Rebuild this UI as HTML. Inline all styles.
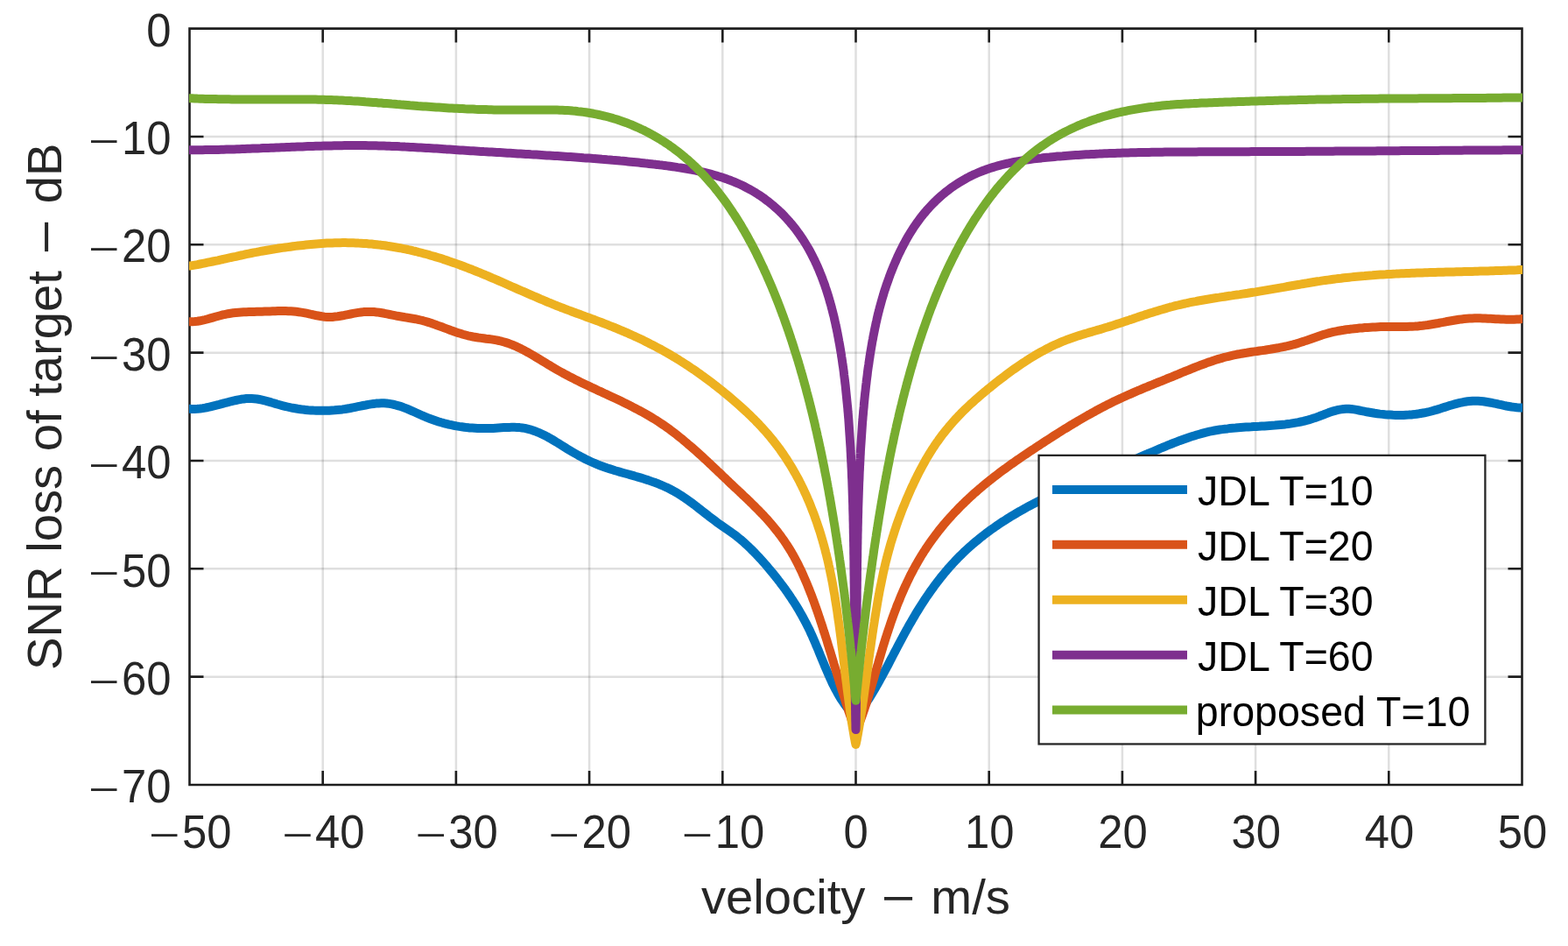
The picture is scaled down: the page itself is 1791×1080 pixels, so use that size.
<!DOCTYPE html><html><head><meta charset="utf-8"><title>SNR loss vs velocity</title>
<style>html,body{margin:0;padding:0;background:#fff;}svg{display:block;}text{font-family:"Liberation Sans", Arial, Helvetica, sans-serif;}</style></head><body>
<svg width="1791" height="1080" viewBox="0 0 1791 1080">
<rect x="0" y="0" width="1791" height="1080" fill="#ffffff"/>
<defs><clipPath id="ax"><rect x="215.90" y="32.60" width="1523.20" height="863.40"/></clipPath></defs>
<g stroke="#262626" stroke-opacity="0.15" stroke-width="2.5" fill="none">
<path d="M368.70,32.60V896.00"/>
<path d="M520.90,32.60V896.00"/>
<path d="M673.10,32.60V896.00"/>
<path d="M825.30,32.60V896.00"/>
<path d="M977.50,32.60V896.00"/>
<path d="M1129.70,32.60V896.00"/>
<path d="M1281.90,32.60V896.00"/>
<path d="M1434.10,32.60V896.00"/>
<path d="M1586.30,32.60V896.00"/>
<path d="M216.50,155.94H1738.50"/>
<path d="M216.50,279.29H1738.50"/>
<path d="M216.50,402.63H1738.50"/>
<path d="M216.50,525.97H1738.50"/>
<path d="M216.50,649.31H1738.50"/>
<path d="M216.50,772.66H1738.50"/>
</g>
<path d="M216.50,32.60H1738.50V896.00H216.50Z M368.70,896.00v-16.00 M368.70,32.60v16.00 M520.90,896.00v-16.00 M520.90,32.60v16.00 M673.10,896.00v-16.00 M673.10,32.60v16.00 M825.30,896.00v-16.00 M825.30,32.60v16.00 M977.50,896.00v-16.00 M977.50,32.60v16.00 M1129.70,896.00v-16.00 M1129.70,32.60v16.00 M1281.90,896.00v-16.00 M1281.90,32.60v16.00 M1434.10,896.00v-16.00 M1434.10,32.60v16.00 M1586.30,896.00v-16.00 M1586.30,32.60v16.00 M216.50,155.94h16.00 M1738.50,155.94h-16.00 M216.50,279.29h16.00 M1738.50,279.29h-16.00 M216.50,402.63h16.00 M1738.50,402.63h-16.00 M216.50,525.97h16.00 M1738.50,525.97h-16.00 M216.50,649.31h16.00 M1738.50,649.31h-16.00 M216.50,772.66h16.00 M1738.50,772.66h-16.00" fill="none" stroke="#1e1e1e" stroke-width="2.6" stroke-linecap="butt" stroke-linejoin="miter"/>
<g clip-path="url(#ax)" fill="none" stroke-width="10" stroke-linejoin="round" stroke-linecap="butt">
<path stroke="#0072BD" d="M215.9,466.8L216.5,466.8 219.5,467.0 222.5,466.9 225.5,466.8 228.5,466.5 231.4,466.1 234.4,465.6 237.4,465.0 240.3,464.3 243.2,463.6 246.2,462.9 249.1,462.2 252.0,461.4 254.9,460.6 257.8,459.8 260.7,459.1 263.6,458.3 266.5,457.6 269.5,457.0 272.4,456.4 275.4,455.8 278.4,455.4 281.4,455.1 284.4,455.0 287.4,455.0 290.4,455.2 293.4,455.5 296.3,456.0 299.3,456.6 302.2,457.3 305.1,458.1 308.0,458.9 310.9,459.8 313.8,460.6 316.7,461.5 319.5,462.3 322.5,463.1 325.4,463.8 328.3,464.5 331.2,465.2 334.2,465.8 337.2,466.3 340.1,466.8 343.1,467.2 346.1,467.6 349.1,467.9 352.1,468.2 355.1,468.4 358.1,468.6 361.1,468.7 364.1,468.8 367.1,468.8 370.1,468.8 373.1,468.8 376.1,468.7 379.1,468.5 382.1,468.3 385.1,468.0 388.1,467.7 391.1,467.4 394.1,467.0 397.1,466.5 400.0,466.0 403.0,465.4 405.9,464.8 408.9,464.2 411.8,463.6 414.8,463.0 417.7,462.5 420.7,461.9 423.7,461.4 426.6,461.0 429.6,460.6 432.6,460.4 435.6,460.3 438.6,460.3 441.6,460.5 444.6,460.9 447.6,461.4 450.5,462.0 453.5,462.8 456.3,463.6 459.2,464.6 462.0,465.6 464.8,466.7 467.6,467.9 470.4,469.1 473.1,470.3 475.8,471.5 478.6,472.8 481.3,474.0 484.1,475.2 486.9,476.3 489.7,477.5 492.5,478.5 495.3,479.5 498.2,480.5 501.0,481.4 503.9,482.3 506.8,483.1 509.7,483.8 512.6,484.6 515.6,485.2 518.5,485.8 521.5,486.4 524.5,486.9 527.4,487.3 530.4,487.7 533.4,488.1 536.4,488.4 539.4,488.6 542.4,488.8 545.4,489.0 548.4,489.1 551.4,489.1 554.4,489.1 557.4,489.1 560.4,489.0 563.4,488.9 566.4,488.7 569.4,488.5 572.4,488.3 575.5,488.1 578.5,488.0 581.5,487.9 584.5,487.8 587.5,487.8 590.5,487.9 593.5,488.1 596.5,488.5 599.5,488.9 602.4,489.6 605.3,490.3 608.2,491.2 611.0,492.2 613.8,493.3 616.6,494.4 619.3,495.7 622.0,497.0 624.7,498.4 627.3,499.9 630.0,501.4 632.5,502.9 635.1,504.5 637.7,506.0 640.2,507.6 642.8,509.2 645.3,510.8 647.9,512.4 650.5,514.0 653.0,515.5 655.6,517.0 658.3,518.5 660.9,520.0 663.5,521.4 666.2,522.8 668.9,524.2 671.6,525.5 674.3,526.8 677.0,528.0 679.8,529.2 682.6,530.4 685.4,531.5 688.2,532.5 691.0,533.5 693.9,534.5 696.8,535.4 699.6,536.3 702.5,537.2 705.4,538.0 708.3,538.9 711.2,539.7 714.1,540.5 717.0,541.3 719.9,542.1 722.8,542.9 725.7,543.8 728.6,544.6 731.4,545.4 734.3,546.3 737.2,547.2 740.1,548.1 742.9,549.1 745.7,550.1 748.6,551.1 751.4,552.2 754.2,553.3 757.0,554.5 759.7,555.7 762.4,556.9 765.1,558.3 767.8,559.7 770.4,561.1 773.0,562.6 775.6,564.2 778.1,565.8 780.7,567.5 783.1,569.2 785.6,570.9 788.0,572.6 790.5,574.4 792.9,576.2 795.3,578.1 797.7,579.9 800.0,581.7 802.4,583.6 804.8,585.5 807.1,587.3 809.5,589.2 811.9,591.0 814.3,592.8 816.7,594.6 819.1,596.4 821.6,598.2 824.0,599.9 826.5,601.6 829.0,603.3 831.4,605.0 833.9,606.8 836.3,608.5 838.8,610.3 841.2,612.1 843.5,614.0 845.9,615.9 848.1,617.8 850.4,619.8 852.6,621.9 854.8,623.9 857.0,626.0 859.1,628.1 861.3,630.3 863.3,632.4 865.4,634.6 867.5,636.8 869.5,639.0 871.5,641.3 873.5,643.5 875.5,645.8 877.4,648.1 879.3,650.4 881.3,652.7 883.2,655.0 885.1,657.4 887.0,659.7 888.8,662.1 890.7,664.5 892.5,666.9 894.3,669.3 896.1,671.7 897.8,674.1 899.6,676.6 901.3,679.1 903.0,681.6 904.6,684.1 906.3,686.6 907.9,689.1 909.5,691.7 911.1,694.2 912.6,696.8 914.1,699.4 915.6,702.0 917.1,704.7 918.5,707.3 919.9,710.0 921.3,712.6 922.6,715.3 924.0,718.0 925.3,720.7 926.5,723.5 927.8,726.2 929.0,729.0 930.2,731.7 931.4,734.5 932.5,737.3 933.7,740.0 934.9,742.8 936.0,745.6 937.1,748.4 938.3,751.2 939.4,753.9 940.6,756.7 941.7,759.5 942.9,762.3 944.1,765.0 945.3,767.8 946.5,770.6 947.7,773.3 949.0,776.0 950.2,778.8 951.5,781.5 952.9,784.2 954.3,786.9 955.7,789.5 957.1,792.1 958.6,794.7 960.2,797.3 961.8,799.8 963.5,802.3 965.3,804.8 967.1,807.2 969.0,809.5 971.0,811.8 973.1,813.9 975.2,816.0 977.5,818.0 979.5,815.7 981.4,813.4 983.2,811.0 985.0,808.6 986.8,806.2 988.5,803.7 990.1,801.2 991.8,798.7 993.4,796.2 995.0,793.6 996.6,791.1 998.1,788.5 999.6,785.9 1001.1,783.3 1002.6,780.7 1004.1,778.1 1005.5,775.5 1007.0,772.8 1008.4,770.2 1009.8,767.6 1011.2,764.9 1012.7,762.3 1014.1,759.6 1015.5,756.9 1016.8,754.3 1018.2,751.6 1019.6,749.0 1021.0,746.3 1022.4,743.6 1023.8,741.0 1025.2,738.3 1026.6,735.7 1028.0,733.0 1029.4,730.4 1030.8,727.7 1032.2,725.1 1033.7,722.4 1035.1,719.8 1036.6,717.2 1038.0,714.6 1039.5,712.0 1041.0,709.4 1042.5,706.8 1044.1,704.2 1045.6,701.6 1047.1,699.0 1048.7,696.5 1050.3,693.9 1051.9,691.4 1053.5,688.9 1055.2,686.3 1056.8,683.8 1058.5,681.3 1060.2,678.9 1061.9,676.4 1063.6,673.9 1065.4,671.5 1067.1,669.1 1068.9,666.7 1070.7,664.3 1072.6,661.9 1074.4,659.5 1076.3,657.2 1078.2,654.9 1080.1,652.6 1082.1,650.3 1084.0,648.0 1086.0,645.8 1088.0,643.6 1090.1,641.4 1092.1,639.2 1094.2,637.0 1096.3,634.9 1098.5,632.8 1100.6,630.7 1102.8,628.6 1105.0,626.6 1107.3,624.6 1109.5,622.6 1111.8,620.6 1114.1,618.7 1116.4,616.8 1118.7,614.9 1121.0,613.0 1123.4,611.2 1125.8,609.3 1128.2,607.5 1130.6,605.7 1133.0,604.0 1135.5,602.3 1138.0,600.5 1140.4,598.9 1142.9,597.2 1145.4,595.5 1148.0,593.9 1150.5,592.3 1153.0,590.7 1155.6,589.1 1158.2,587.6 1160.7,586.1 1163.3,584.5 1165.9,583.1 1168.6,581.6 1171.2,580.1 1173.8,578.7 1176.5,577.3 1179.1,575.9 1181.8,574.5 1184.4,573.1 1187.1,571.7 1189.8,570.4 1192.5,569.0 1195.2,567.7 1197.9,566.4 1200.6,565.1 1203.3,563.8 1206.0,562.6 1208.7,561.3 1211.5,560.1 1214.2,558.8 1216.9,557.6 1219.7,556.4 1222.4,555.2 1225.2,554.0 1227.9,552.8 1230.7,551.6 1233.4,550.4 1236.2,549.2 1239.0,548.0 1241.7,546.9 1244.5,545.7 1247.3,544.6 1250.0,543.4 1252.8,542.3 1255.6,541.1 1258.4,540.0 1261.1,538.8 1263.9,537.7 1266.7,536.6 1269.5,535.4 1272.3,534.3 1275.0,533.1 1277.8,532.0 1280.6,530.8 1283.4,529.7 1286.1,528.6 1288.9,527.4 1291.7,526.3 1294.4,525.1 1297.2,523.9 1300.0,522.8 1302.7,521.6 1305.5,520.4 1308.3,519.2 1311.0,518.0 1313.8,516.9 1316.5,515.7 1319.3,514.5 1322.1,513.3 1324.8,512.2 1327.6,511.0 1330.4,509.9 1333.1,508.7 1335.9,507.6 1338.7,506.5 1341.5,505.4 1344.3,504.3 1347.1,503.2 1349.9,502.2 1352.7,501.2 1355.6,500.2 1358.4,499.2 1361.3,498.3 1364.1,497.4 1367.0,496.5 1369.9,495.7 1372.8,494.9 1375.7,494.1 1378.6,493.4 1381.5,492.7 1384.5,492.1 1387.4,491.5 1390.4,491.0 1393.3,490.5 1396.3,490.1 1399.3,489.7 1402.3,489.4 1405.2,489.0 1408.2,488.7 1411.2,488.5 1414.2,488.2 1417.2,488.0 1420.2,487.8 1423.2,487.6 1426.2,487.4 1429.2,487.3 1432.2,487.1 1435.2,486.9 1438.2,486.8 1441.2,486.6 1444.2,486.4 1447.2,486.2 1450.2,486.0 1453.1,485.8 1456.1,485.6 1459.1,485.3 1462.1,485.0 1465.1,484.7 1468.1,484.4 1471.1,484.0 1474.0,483.6 1477.0,483.1 1480.0,482.6 1482.9,482.1 1485.9,481.5 1488.8,480.9 1491.7,480.1 1494.6,479.4 1497.5,478.5 1500.3,477.6 1503.2,476.7 1506.0,475.6 1508.8,474.5 1511.6,473.5 1514.4,472.4 1517.2,471.3 1520.0,470.3 1522.9,469.4 1525.8,468.6 1528.7,467.9 1531.7,467.4 1534.6,467.0 1537.6,466.8 1540.6,466.8 1543.6,467.0 1546.6,467.4 1549.6,467.9 1552.5,468.5 1555.4,469.1 1558.4,469.7 1561.3,470.3 1564.3,470.8 1567.2,471.3 1570.2,471.8 1573.2,472.2 1576.2,472.6 1579.1,472.9 1582.1,473.2 1585.1,473.4 1588.1,473.6 1591.1,473.8 1594.1,473.9 1597.1,473.9 1600.1,473.9 1603.1,473.9 1606.1,473.7 1609.1,473.6 1612.1,473.4 1615.1,473.1 1618.1,472.7 1621.0,472.3 1624.0,471.8 1627.0,471.3 1629.9,470.7 1632.8,470.0 1635.7,469.2 1638.6,468.4 1641.5,467.6 1644.4,466.7 1647.2,465.8 1650.1,464.9 1653.0,464.0 1655.8,463.1 1658.7,462.2 1661.6,461.4 1664.5,460.6 1667.4,459.9 1670.3,459.3 1673.3,458.7 1676.2,458.3 1679.2,458.0 1682.2,457.7 1685.2,457.7 1688.2,457.7 1691.2,457.9 1694.2,458.2 1697.2,458.7 1700.1,459.2 1703.1,459.7 1706.0,460.3 1709.0,460.9 1711.9,461.6 1714.8,462.2 1717.8,462.9 1720.7,463.5 1723.6,464.0 1726.6,464.5 1729.6,464.9 1732.6,465.3 1735.5,465.5 1738.5,465.6 1739.1,465.6"/>
<path stroke="#D95319" d="M215.9,367.2L216.5,367.2 219.5,367.3 222.5,367.1 225.5,366.8 228.4,366.3 231.4,365.7 234.3,365.0 237.2,364.2 240.1,363.4 243.0,362.6 245.8,361.8 248.7,361.0 251.6,360.2 254.5,359.4 257.5,358.8 260.4,358.2 263.4,357.7 266.3,357.3 269.3,357.0 272.3,356.7 275.3,356.5 278.3,356.3 281.3,356.2 284.3,356.1 287.3,356.0 290.3,355.9 293.3,355.8 296.3,355.8 299.3,355.7 302.3,355.6 305.3,355.5 308.3,355.4 311.3,355.3 314.3,355.2 317.3,355.1 320.3,355.1 323.3,355.1 326.3,355.1 329.3,355.2 332.3,355.3 335.3,355.5 338.3,355.8 341.3,356.2 344.2,356.6 347.2,357.1 350.1,357.7 353.1,358.3 356.0,359.0 358.9,359.6 361.9,360.3 364.8,360.8 367.8,361.3 370.7,361.7 373.7,361.9 376.7,362.0 379.7,361.9 382.7,361.6 385.7,361.3 388.7,360.8 391.6,360.3 394.6,359.7 397.5,359.1 400.5,358.5 403.4,357.9 406.3,357.4 409.3,356.9 412.3,356.5 415.3,356.1 418.3,355.9 421.3,355.9 424.3,355.9 427.2,356.1 430.2,356.4 433.2,356.8 436.2,357.3 439.1,357.8 442.1,358.4 445.0,359.0 448.0,359.6 450.9,360.2 453.8,360.8 456.8,361.3 459.7,361.8 462.7,362.3 465.7,362.7 468.6,363.2 471.6,363.7 474.6,364.2 477.5,364.8 480.4,365.5 483.3,366.2 486.2,367.0 489.1,367.9 492.0,368.8 494.8,369.8 497.6,370.7 500.5,371.8 503.3,372.8 506.1,373.8 508.9,374.9 511.7,375.9 514.5,377.0 517.4,378.0 520.2,379.0 523.0,379.9 525.9,380.8 528.8,381.7 531.7,382.5 534.6,383.3 537.5,383.9 540.4,384.5 543.4,385.0 546.4,385.5 549.3,385.9 552.3,386.3 555.3,386.7 558.3,387.0 561.2,387.4 564.2,387.9 567.2,388.4 570.1,389.0 573.0,389.7 575.9,390.5 578.8,391.4 581.6,392.3 584.4,393.4 587.2,394.5 590.0,395.7 592.7,397.0 595.4,398.3 598.0,399.7 600.7,401.1 603.3,402.5 605.9,404.0 608.5,405.5 611.1,407.1 613.7,408.6 616.3,410.1 618.8,411.7 621.4,413.3 623.9,414.8 626.5,416.4 629.1,417.9 631.7,419.5 634.2,421.0 636.8,422.5 639.5,424.0 642.1,425.4 644.7,426.9 647.4,428.3 650.0,429.7 652.7,431.0 655.4,432.4 658.0,433.8 660.7,435.1 663.4,436.4 666.1,437.7 668.8,439.0 671.5,440.3 674.3,441.6 677.0,442.9 679.7,444.1 682.4,445.4 685.1,446.7 687.9,447.9 690.6,449.2 693.3,450.4 696.0,451.7 698.7,453.0 701.5,454.3 704.2,455.5 706.9,456.8 709.6,458.1 712.3,459.4 715.0,460.7 717.7,462.1 720.4,463.4 723.0,464.8 725.7,466.2 728.4,467.6 731.0,469.0 733.6,470.4 736.3,471.9 738.9,473.4 741.5,474.9 744.0,476.4 746.6,478.0 749.2,479.5 751.7,481.1 754.2,482.8 756.7,484.5 759.2,486.2 761.6,487.9 764.1,489.6 766.5,491.4 768.9,493.2 771.3,495.0 773.6,496.9 776.0,498.8 778.3,500.6 780.6,502.6 782.9,504.5 785.2,506.4 787.5,508.4 789.8,510.3 792.0,512.3 794.3,514.3 796.5,516.3 798.7,518.3 801.0,520.3 803.2,522.3 805.4,524.4 807.6,526.4 809.8,528.5 812.0,530.5 814.2,532.6 816.3,534.6 818.5,536.7 820.7,538.8 822.9,540.8 825.0,542.9 827.2,545.0 829.4,547.0 831.6,549.1 833.7,551.2 835.9,553.2 838.1,555.3 840.3,557.4 842.5,559.4 844.7,561.5 846.9,563.5 849.0,565.6 851.2,567.6 853.4,569.7 855.6,571.8 857.7,573.9 859.9,576.0 862.0,578.1 864.1,580.2 866.2,582.3 868.3,584.5 870.4,586.6 872.5,588.8 874.5,591.0 876.5,593.2 878.5,595.5 880.5,597.8 882.4,600.0 884.3,602.4 886.2,604.7 888.1,607.0 889.9,609.4 891.7,611.8 893.5,614.3 895.2,616.7 896.9,619.2 898.6,621.7 900.2,624.2 901.8,626.7 903.4,629.3 904.9,631.9 906.4,634.5 907.8,637.1 909.2,639.8 910.6,642.4 912.0,645.1 913.3,647.8 914.6,650.5 915.9,653.2 917.1,656.0 918.3,658.7 919.5,661.5 920.7,664.2 921.9,667.0 923.0,669.8 924.1,672.5 925.2,675.3 926.3,678.1 927.4,680.9 928.4,683.7 929.5,686.6 930.5,689.4 931.5,692.2 932.5,695.0 933.5,697.9 934.5,700.7 935.4,703.5 936.4,706.4 937.3,709.2 938.3,712.1 939.2,714.9 940.1,717.8 941.0,720.7 942.0,723.5 942.9,726.4 943.8,729.2 944.7,732.1 945.5,735.0 946.4,737.8 947.3,740.7 948.2,743.6 949.1,746.5 949.9,749.3 950.8,752.2 951.7,755.1 952.5,757.9 953.4,760.8 954.3,763.7 955.2,766.6 956.0,769.4 956.9,772.3 957.8,775.2 958.6,778.0 959.5,780.9 960.4,783.8 961.3,786.6 962.2,789.5 963.1,792.4 964.0,795.2 964.9,798.1 965.8,801.0 966.7,803.8 967.7,806.7 968.6,809.5 969.5,812.4 970.5,815.2 971.5,818.0 972.4,820.9 973.4,823.7 974.4,826.6 975.4,829.4 976.5,832.2 977.5,835.0 978.8,832.3 980.0,829.5 981.1,826.7 982.2,823.9 983.3,821.1 984.3,818.3 985.3,815.5 986.3,812.6 987.3,809.8 988.2,806.9 989.2,804.0 990.1,801.2 991.0,798.3 991.9,795.4 992.7,792.6 993.6,789.7 994.5,786.8 995.3,783.9 996.2,781.0 997.0,778.1 997.9,775.3 998.7,772.4 999.5,769.5 1000.4,766.6 1001.2,763.7 1002.0,760.8 1002.9,757.9 1003.7,755.0 1004.5,752.1 1005.4,749.3 1006.2,746.4 1007.1,743.5 1008.0,740.6 1008.8,737.7 1009.7,734.9 1010.6,732.0 1011.5,729.1 1012.4,726.3 1013.3,723.4 1014.3,720.5 1015.2,717.7 1016.2,714.8 1017.1,712.0 1018.1,709.1 1019.1,706.3 1020.1,703.5 1021.2,700.6 1022.2,697.8 1023.3,695.0 1024.3,692.2 1025.4,689.4 1026.6,686.6 1027.7,683.8 1028.8,681.0 1030.0,678.3 1031.2,675.5 1032.4,672.7 1033.6,670.0 1034.9,667.3 1036.2,664.5 1037.5,661.8 1038.8,659.1 1040.1,656.4 1041.5,653.8 1042.9,651.1 1044.3,648.5 1045.8,645.8 1047.3,643.2 1048.8,640.6 1050.3,638.0 1051.8,635.4 1053.4,632.9 1055.0,630.3 1056.7,627.8 1058.3,625.3 1060.0,622.8 1061.7,620.3 1063.4,617.9 1065.2,615.4 1067.0,613.0 1068.8,610.6 1070.6,608.2 1072.4,605.8 1074.3,603.5 1076.2,601.1 1078.1,598.8 1080.1,596.5 1082.0,594.3 1084.0,592.0 1086.0,589.8 1088.1,587.5 1090.1,585.3 1092.2,583.2 1094.3,581.0 1096.4,578.8 1098.5,576.7 1100.7,574.6 1102.8,572.5 1105.0,570.5 1107.2,568.4 1109.4,566.4 1111.6,564.3 1113.9,562.3 1116.2,560.4 1118.4,558.4 1120.7,556.5 1123.0,554.5 1125.3,552.6 1127.7,550.7 1130.0,548.8 1132.4,547.0 1134.7,545.1 1137.1,543.3 1139.5,541.4 1141.9,539.6 1144.3,537.8 1146.7,536.0 1149.2,534.3 1151.6,532.5 1154.0,530.7 1156.5,529.0 1159.0,527.3 1161.4,525.5 1163.9,523.8 1166.4,522.1 1168.9,520.4 1171.4,518.8 1173.8,517.1 1176.3,515.4 1178.9,513.7 1181.4,512.1 1183.9,510.4 1186.4,508.8 1188.9,507.1 1191.4,505.5 1193.9,503.8 1196.5,502.2 1199.0,500.6 1201.5,499.0 1204.1,497.3 1206.6,495.7 1209.1,494.1 1211.7,492.5 1214.2,490.9 1216.8,489.3 1219.4,487.8 1221.9,486.2 1224.5,484.7 1227.1,483.1 1229.7,481.6 1232.3,480.0 1234.9,478.5 1237.5,477.0 1240.1,475.5 1242.7,474.0 1245.3,472.6 1247.9,471.1 1250.6,469.7 1253.2,468.2 1255.9,466.8 1258.5,465.4 1261.2,464.0 1263.9,462.6 1266.6,461.3 1269.2,459.9 1271.9,458.6 1274.7,457.3 1277.4,456.0 1280.1,454.7 1282.8,453.5 1285.6,452.2 1288.3,451.0 1291.1,449.8 1293.8,448.6 1296.6,447.4 1299.3,446.2 1302.1,445.1 1304.9,443.9 1307.7,442.7 1310.5,441.6 1313.2,440.4 1316.0,439.3 1318.8,438.2 1321.6,437.0 1324.4,435.9 1327.2,434.8 1330.0,433.7 1332.7,432.5 1335.5,431.4 1338.3,430.3 1341.1,429.1 1343.9,428.0 1346.7,426.8 1349.4,425.7 1352.2,424.5 1355.0,423.4 1357.8,422.3 1360.6,421.1 1363.4,420.0 1366.2,418.9 1369.0,417.8 1371.8,416.7 1374.6,415.7 1377.4,414.7 1380.2,413.6 1383.1,412.7 1385.9,411.7 1388.8,410.8 1391.7,409.9 1394.6,409.1 1397.5,408.2 1400.4,407.5 1403.3,406.8 1406.2,406.1 1409.2,405.4 1412.1,404.8 1415.1,404.3 1418.0,403.7 1421.0,403.2 1424.0,402.8 1426.9,402.3 1429.9,401.8 1432.9,401.4 1435.8,401.0 1438.8,400.5 1441.8,400.1 1444.8,399.7 1447.7,399.2 1450.7,398.8 1453.7,398.3 1456.7,397.8 1459.6,397.3 1462.6,396.7 1465.5,396.1 1468.5,395.5 1471.4,394.8 1474.3,394.1 1477.2,393.4 1480.1,392.6 1483.0,391.7 1485.9,390.8 1488.8,389.9 1491.6,388.9 1494.4,388.0 1497.3,387.0 1500.1,386.0 1503.0,385.0 1505.8,384.0 1508.7,383.0 1511.5,382.1 1514.4,381.2 1517.3,380.4 1520.2,379.6 1523.1,378.9 1526.1,378.3 1529.0,377.7 1532.0,377.2 1534.9,376.8 1537.9,376.3 1540.9,375.9 1543.9,375.6 1546.9,375.2 1549.9,374.9 1552.9,374.6 1555.9,374.4 1558.9,374.1 1561.8,373.9 1564.9,373.7 1567.9,373.5 1570.9,373.4 1573.9,373.2 1576.9,373.1 1579.9,373.0 1582.9,373.0 1585.9,372.9 1588.9,372.9 1591.9,372.9 1594.9,372.9 1597.9,372.9 1600.9,372.9 1603.9,372.9 1606.9,372.9 1609.9,372.8 1613.0,372.7 1616.0,372.6 1619.0,372.4 1622.0,372.1 1624.9,371.8 1627.9,371.4 1630.9,371.0 1633.9,370.5 1636.8,370.0 1639.8,369.5 1642.8,369.0 1645.7,368.4 1648.7,367.9 1651.6,367.3 1654.6,366.8 1657.6,366.3 1660.5,365.8 1663.5,365.3 1666.5,364.8 1669.4,364.4 1672.4,364.1 1675.4,363.8 1678.4,363.6 1681.4,363.4 1684.4,363.3 1687.4,363.3 1690.5,363.3 1693.5,363.4 1696.5,363.5 1699.5,363.7 1702.5,363.8 1705.5,364.0 1708.5,364.2 1711.5,364.3 1714.5,364.5 1717.5,364.6 1720.5,364.7 1723.5,364.7 1726.5,364.7 1729.5,364.7 1732.5,364.5 1735.5,364.4 1738.5,364.1 1739.1,364.1"/>
<path stroke="#EDB120" d="M215.9,303.6L216.5,303.6 219.4,303.1 222.4,302.6 225.4,302.1 228.3,301.5 231.3,300.9 234.2,300.3 237.1,299.7 240.1,299.1 243.0,298.5 246.0,297.9 248.9,297.3 251.8,296.6 254.8,296.0 257.7,295.3 260.7,294.7 263.6,294.0 266.5,293.4 269.5,292.8 272.4,292.1 275.3,291.5 278.3,290.9 281.2,290.2 284.2,289.6 287.1,289.0 290.0,288.4 293.0,287.9 295.9,287.3 298.9,286.7 301.9,286.2 304.8,285.7 307.8,285.2 310.7,284.7 313.7,284.2 316.7,283.8 319.7,283.3 322.6,282.9 325.6,282.5 328.6,282.1 331.6,281.7 334.5,281.3 337.5,280.9 340.5,280.5 343.5,280.2 346.5,279.9 349.5,279.6 352.5,279.3 355.4,279.0 358.4,278.7 361.4,278.4 364.4,278.2 367.4,278.0 370.4,277.8 373.4,277.6 376.4,277.5 379.4,277.4 382.4,277.3 385.4,277.2 388.4,277.2 391.5,277.1 394.5,277.1 397.5,277.2 400.5,277.2 403.5,277.3 406.5,277.4 409.5,277.6 412.5,277.7 415.5,277.9 418.5,278.1 421.5,278.4 424.5,278.6 427.5,278.9 430.4,279.2 433.4,279.6 436.4,279.9 439.4,280.3 442.4,280.8 445.3,281.2 448.3,281.7 451.3,282.2 454.2,282.7 457.2,283.2 460.1,283.8 463.1,284.4 466.0,285.0 469.0,285.7 471.9,286.4 474.8,287.0 477.7,287.8 480.6,288.5 483.5,289.3 486.4,290.0 489.3,290.8 492.2,291.7 495.1,292.5 498.0,293.4 500.9,294.2 503.7,295.1 506.6,296.1 509.5,297.0 512.3,298.0 515.1,298.9 518.0,299.9 520.8,300.9 523.6,301.9 526.5,303.0 529.3,304.0 532.1,305.1 534.9,306.2 537.7,307.2 540.5,308.4 543.3,309.5 546.1,310.6 548.9,311.7 551.6,312.9 554.4,314.0 557.2,315.2 559.9,316.4 562.7,317.6 565.5,318.7 568.2,319.9 571.0,321.1 573.7,322.3 576.5,323.5 579.2,324.7 582.0,326.0 584.7,327.2 587.5,328.4 590.2,329.6 593.0,330.8 595.7,332.0 598.5,333.2 601.2,334.4 604.0,335.6 606.8,336.8 609.5,338.0 612.3,339.2 615.0,340.4 617.8,341.6 620.6,342.7 623.3,343.9 626.1,345.1 628.9,346.2 631.7,347.3 634.5,348.5 637.3,349.6 640.1,350.7 642.9,351.7 645.7,352.8 648.5,353.9 651.3,354.9 654.1,356.0 656.9,357.0 659.7,358.1 662.6,359.1 665.4,360.1 668.2,361.2 671.0,362.2 673.9,363.2 676.7,364.3 679.5,365.3 682.3,366.4 685.1,367.4 687.9,368.5 690.7,369.6 693.5,370.7 696.3,371.8 699.1,372.9 701.9,374.0 704.7,375.1 707.5,376.3 710.2,377.5 713.0,378.6 715.8,379.8 718.5,381.1 721.2,382.3 724.0,383.5 726.7,384.8 729.4,386.0 732.2,387.3 734.9,388.6 737.6,390.0 740.2,391.3 742.9,392.7 745.6,394.0 748.3,395.4 750.9,396.8 753.6,398.2 756.2,399.7 758.8,401.1 761.5,402.6 764.1,404.1 766.7,405.6 769.2,407.2 771.8,408.7 774.4,410.3 776.9,411.9 779.5,413.5 782.0,415.1 784.5,416.7 787.0,418.4 789.5,420.1 792.0,421.7 794.5,423.4 797.0,425.2 799.4,426.9 801.9,428.7 804.3,430.4 806.7,432.2 809.1,434.0 811.5,435.8 813.9,437.6 816.3,439.5 818.7,441.3 821.0,443.2 823.4,445.0 825.7,446.9 828.0,448.8 830.3,450.7 832.7,452.7 835.0,454.6 837.2,456.5 839.5,458.5 841.8,460.5 844.1,462.5 846.3,464.5 848.5,466.5 850.7,468.5 852.9,470.5 855.1,472.6 857.3,474.7 859.4,476.8 861.6,478.9 863.7,481.1 865.8,483.2 867.8,485.4 869.9,487.6 871.9,489.8 873.9,492.0 875.9,494.3 877.9,496.6 879.8,498.9 881.7,501.2 883.6,503.5 885.4,505.9 887.3,508.3 889.1,510.7 890.9,513.1 892.6,515.6 894.3,518.0 896.0,520.5 897.7,523.0 899.3,525.5 900.9,528.1 902.5,530.6 904.1,533.2 905.6,535.8 907.1,538.4 908.6,541.0 910.0,543.6 911.5,546.3 912.9,548.9 914.2,551.6 915.6,554.3 916.9,557.0 918.2,559.7 919.4,562.4 920.7,565.2 921.9,567.9 923.1,570.7 924.3,573.4 925.4,576.2 926.5,579.0 927.6,581.8 928.7,584.6 929.8,587.4 930.8,590.2 931.8,593.1 932.8,595.9 933.8,598.8 934.7,601.6 935.7,604.5 936.6,607.3 937.5,610.2 938.3,613.1 939.2,616.0 940.0,618.9 940.8,621.7 941.6,624.6 942.4,627.5 943.1,630.5 943.9,633.4 944.6,636.3 945.3,639.2 946.0,642.1 946.6,645.1 947.3,648.0 947.9,650.9 948.5,653.9 949.1,656.8 949.7,659.8 950.3,662.7 950.9,665.7 951.4,668.6 951.9,671.6 952.4,674.5 953.0,677.5 953.5,680.5 953.9,683.4 954.4,686.4 954.9,689.4 955.4,692.3 955.8,695.3 956.3,698.3 956.7,701.3 957.1,704.2 957.5,707.2 958.0,710.2 958.4,713.2 958.8,716.1 959.2,719.1 959.6,722.1 960.0,725.1 960.4,728.1 960.8,731.0 961.1,734.0 961.5,737.0 961.9,740.0 962.3,743.0 962.6,745.9 963.0,748.9 963.4,751.9 963.7,754.9 964.1,757.9 964.5,760.9 964.8,763.8 965.2,766.8 965.6,769.8 965.9,772.8 966.3,775.8 966.7,778.7 967.1,781.7 967.4,784.7 967.8,787.7 968.2,790.7 968.6,793.7 969.0,796.6 969.4,799.6 969.8,802.6 970.2,805.6 970.6,808.5 971.0,811.5 971.4,814.5 971.9,817.5 972.3,820.4 972.7,823.4 973.2,826.4 973.7,829.4 974.2,832.3 974.7,835.3 975.2,838.2 975.7,841.2 976.3,844.2 976.8,847.1 977.5,850.0 978.2,847.1 978.8,844.2 979.3,841.2 979.9,838.3 980.4,835.3 980.9,832.3 981.4,829.4 981.9,826.4 982.4,823.5 982.9,820.5 983.3,817.5 983.8,814.6 984.2,811.6 984.7,808.6 985.1,805.7 985.5,802.7 986.0,799.7 986.4,796.7 986.8,793.8 987.2,790.8 987.6,787.8 988.0,784.8 988.5,781.9 988.9,778.9 989.3,775.9 989.7,773.0 990.1,770.0 990.5,767.0 990.9,764.0 991.3,761.1 991.7,758.1 992.1,755.1 992.5,752.1 992.9,749.2 993.3,746.2 993.7,743.2 994.2,740.2 994.6,737.3 995.0,734.3 995.4,731.3 995.9,728.3 996.3,725.4 996.7,722.4 997.2,719.4 997.6,716.5 998.1,713.5 998.6,710.5 999.0,707.6 999.5,704.6 1000.0,701.6 1000.5,698.7 1001.0,695.7 1001.5,692.8 1002.0,689.8 1002.5,686.8 1003.0,683.9 1003.5,680.9 1004.1,678.0 1004.6,675.0 1005.2,672.1 1005.8,669.1 1006.4,666.2 1007.0,663.3 1007.6,660.3 1008.2,657.4 1008.8,654.4 1009.5,651.5 1010.1,648.6 1010.8,645.7 1011.5,642.7 1012.2,639.8 1013.0,636.9 1013.7,634.0 1014.5,631.1 1015.3,628.2 1016.1,625.3 1016.9,622.4 1017.7,619.5 1018.6,616.7 1019.5,613.8 1020.4,610.9 1021.3,608.1 1022.2,605.2 1023.2,602.4 1024.1,599.5 1025.1,596.7 1026.1,593.9 1027.2,591.0 1028.2,588.2 1029.3,585.4 1030.3,582.6 1031.4,579.8 1032.6,577.0 1033.7,574.3 1034.8,571.5 1036.0,568.7 1037.2,566.0 1038.4,563.2 1039.6,560.5 1040.8,557.7 1042.1,555.0 1043.4,552.3 1044.6,549.6 1046.0,546.9 1047.3,544.2 1048.6,541.5 1050.0,538.8 1051.4,536.2 1052.8,533.5 1054.2,530.9 1055.7,528.2 1057.1,525.6 1058.6,523.0 1060.2,520.4 1061.7,517.9 1063.3,515.3 1064.9,512.8 1066.6,510.3 1068.2,507.8 1069.9,505.3 1071.7,502.9 1073.4,500.4 1075.2,498.0 1077.0,495.6 1078.9,493.3 1080.8,490.9 1082.7,488.6 1084.6,486.3 1086.6,484.0 1088.5,481.8 1090.5,479.5 1092.6,477.3 1094.6,475.1 1096.7,473.0 1098.8,470.8 1100.9,468.7 1103.1,466.6 1105.3,464.5 1107.4,462.5 1109.6,460.4 1111.9,458.4 1114.1,456.4 1116.4,454.4 1118.6,452.5 1120.9,450.5 1123.2,448.6 1125.5,446.7 1127.8,444.7 1130.2,442.8 1132.5,441.0 1134.8,439.1 1137.2,437.2 1139.5,435.4 1141.9,433.5 1144.3,431.7 1146.7,429.9 1149.1,428.1 1151.5,426.3 1153.9,424.5 1156.3,422.7 1158.8,421.0 1161.2,419.3 1163.7,417.6 1166.2,415.9 1168.7,414.2 1171.2,412.6 1173.7,410.9 1176.3,409.3 1178.8,407.8 1181.4,406.2 1184.0,404.7 1186.6,403.2 1189.2,401.7 1191.8,400.3 1194.5,398.8 1197.1,397.5 1199.8,396.1 1202.5,394.8 1205.2,393.5 1208.0,392.3 1210.7,391.1 1213.5,389.9 1216.3,388.8 1219.1,387.7 1221.9,386.7 1224.7,385.7 1227.6,384.7 1230.4,383.8 1233.3,382.9 1236.1,382.0 1239.0,381.1 1241.9,380.3 1244.8,379.4 1247.7,378.6 1250.5,377.7 1253.4,376.9 1256.3,376.1 1259.2,375.2 1262.1,374.3 1264.9,373.5 1267.8,372.6 1270.7,371.7 1273.5,370.8 1276.4,369.8 1279.2,368.9 1282.1,367.9 1284.9,367.0 1287.8,366.1 1290.6,365.1 1293.5,364.2 1296.3,363.2 1299.2,362.3 1302.0,361.3 1304.9,360.4 1307.7,359.4 1310.6,358.5 1313.4,357.6 1316.3,356.7 1319.2,355.8 1322.0,354.9 1324.9,354.0 1327.8,353.2 1330.7,352.4 1333.5,351.5 1336.4,350.7 1339.3,350.0 1342.3,349.2 1345.2,348.5 1348.1,347.8 1351.0,347.1 1353.9,346.5 1356.9,345.8 1359.8,345.2 1362.8,344.6 1365.7,344.1 1368.7,343.5 1371.6,343.0 1374.6,342.5 1377.5,342.0 1380.5,341.5 1383.4,341.0 1386.4,340.5 1389.4,340.0 1392.3,339.6 1395.3,339.1 1398.3,338.7 1401.3,338.2 1404.2,337.8 1407.2,337.4 1410.2,336.9 1413.1,336.5 1416.1,336.1 1419.1,335.6 1422.0,335.2 1425.0,334.8 1428.0,334.3 1430.9,333.8 1433.9,333.4 1436.9,332.9 1439.8,332.4 1442.8,331.9 1445.8,331.4 1448.7,330.9 1451.7,330.4 1454.6,329.9 1457.6,329.4 1460.6,328.9 1463.5,328.4 1466.5,327.9 1469.4,327.3 1472.4,326.8 1475.3,326.3 1478.3,325.8 1481.3,325.3 1484.2,324.8 1487.2,324.2 1490.1,323.7 1493.1,323.3 1496.1,322.8 1499.0,322.3 1502.0,321.8 1504.9,321.3 1507.9,320.9 1510.9,320.4 1513.9,320.0 1516.8,319.6 1519.8,319.2 1522.8,318.8 1525.8,318.4 1528.7,318.0 1531.7,317.7 1534.7,317.3 1537.7,317.0 1540.7,316.7 1543.6,316.4 1546.6,316.1 1549.6,315.8 1552.6,315.5 1555.6,315.2 1558.6,315.0 1561.6,314.7 1564.6,314.5 1567.6,314.3 1570.6,314.0 1573.6,313.8 1576.6,313.6 1579.6,313.4 1582.6,313.3 1585.5,313.1 1588.5,312.9 1591.5,312.7 1594.5,312.6 1597.5,312.4 1600.5,312.3 1603.5,312.2 1606.5,312.0 1609.5,311.9 1612.5,311.8 1615.5,311.7 1618.5,311.6 1621.5,311.5 1624.5,311.4 1627.5,311.3 1630.5,311.2 1633.5,311.1 1636.5,311.0 1639.5,310.9 1642.5,310.8 1645.5,310.7 1648.5,310.7 1651.5,310.6 1654.5,310.5 1657.5,310.4 1660.5,310.4 1663.5,310.3 1666.5,310.2 1669.5,310.2 1672.5,310.1 1675.6,310.0 1678.6,309.9 1681.6,309.9 1684.6,309.8 1687.6,309.7 1690.6,309.6 1693.6,309.6 1696.6,309.5 1699.6,309.4 1702.6,309.3 1705.6,309.2 1708.6,309.1 1711.6,309.0 1714.6,308.9 1717.6,308.8 1720.6,308.7 1723.6,308.6 1726.6,308.5 1729.6,308.4 1732.6,308.3 1735.6,308.1 1738.6,308.0 1739.2,308.0"/>
<path stroke="#7E2F8E" d="M215.8,171.3L216.4,171.3 219.4,171.3 222.4,171.3 225.4,171.2 228.4,171.2 231.4,171.2 234.5,171.1 237.5,171.1 240.5,171.0 243.5,171.0 246.5,170.9 249.5,170.9 252.5,170.8 255.5,170.7 258.5,170.6 261.5,170.5 264.5,170.5 267.5,170.4 270.5,170.3 273.5,170.2 276.5,170.1 279.5,170.0 282.5,169.8 285.5,169.7 288.5,169.6 291.5,169.5 294.5,169.4 297.5,169.3 300.5,169.1 303.5,169.0 306.5,168.9 309.5,168.8 312.5,168.7 315.5,168.5 318.5,168.4 321.5,168.3 324.5,168.2 327.5,168.0 330.5,167.9 333.5,167.8 336.5,167.7 339.5,167.6 342.5,167.5 345.5,167.4 348.5,167.2 351.5,167.1 354.5,167.0 357.6,166.9 360.6,166.8 363.6,166.8 366.6,166.7 369.6,166.6 372.6,166.5 375.6,166.4 378.6,166.4 381.6,166.3 384.6,166.3 387.6,166.2 390.6,166.2 393.6,166.1 396.6,166.1 399.6,166.1 402.6,166.1 405.6,166.1 408.6,166.1 411.6,166.1 414.6,166.1 417.6,166.1 420.6,166.2 423.6,166.2 426.6,166.3 429.6,166.3 432.6,166.4 435.6,166.5 438.7,166.6 441.7,166.7 444.7,166.8 447.7,166.9 450.7,167.0 453.7,167.1 456.7,167.3 459.7,167.4 462.7,167.6 465.7,167.7 468.7,167.9 471.7,168.0 474.7,168.2 477.7,168.4 480.7,168.5 483.7,168.7 486.7,168.9 489.7,169.1 492.7,169.3 495.7,169.5 498.7,169.6 501.7,169.8 504.7,170.0 507.6,170.2 510.6,170.4 513.6,170.6 516.6,170.8 519.6,171.0 522.6,171.2 525.6,171.4 528.6,171.6 531.6,171.8 534.6,172.0 537.6,172.2 540.6,172.3 543.6,172.5 546.6,172.7 549.6,172.9 552.6,173.1 555.6,173.2 558.6,173.4 561.6,173.6 564.6,173.8 567.6,174.0 570.6,174.1 573.6,174.3 576.6,174.5 579.6,174.7 582.6,174.8 585.6,175.0 588.6,175.2 591.6,175.4 594.6,175.5 597.6,175.7 600.6,175.9 603.6,176.1 606.6,176.3 609.6,176.4 612.6,176.6 615.6,176.8 618.6,177.0 621.6,177.2 624.6,177.4 627.6,177.5 630.6,177.7 633.6,177.9 636.6,178.1 639.6,178.3 642.6,178.5 645.6,178.7 648.6,178.9 651.6,179.1 654.6,179.3 657.6,179.5 660.6,179.7 663.6,179.9 666.6,180.2 669.6,180.4 672.6,180.6 675.6,180.8 678.5,181.1 681.5,181.3 684.5,181.5 687.5,181.8 690.5,182.0 693.5,182.3 696.5,182.5 699.5,182.8 702.5,183.0 705.5,183.3 708.5,183.6 711.5,183.8 714.5,184.1 717.5,184.4 720.4,184.7 723.4,185.0 726.4,185.3 729.4,185.6 732.4,185.9 735.4,186.2 738.4,186.6 741.4,186.9 744.4,187.2 747.3,187.6 750.3,187.9 753.3,188.3 756.3,188.6 759.3,189.0 762.2,189.4 765.2,189.8 768.2,190.2 771.2,190.6 774.1,191.1 777.1,191.5 780.1,192.0 783.0,192.5 786.0,193.0 789.0,193.6 791.9,194.1 794.8,194.7 797.8,195.4 800.7,196.0 803.7,196.7 806.6,197.4 809.5,198.1 812.4,198.9 815.3,199.7 818.2,200.5 821.0,201.4 823.9,202.3 826.8,203.2 829.6,204.2 832.4,205.3 835.2,206.3 838.0,207.4 840.8,208.6 843.5,209.8 846.3,211.0 849.0,212.3 851.7,213.7 854.3,215.1 857.0,216.5 859.6,218.0 862.2,219.5 864.7,221.1 867.2,222.7 869.7,224.4 872.2,226.1 874.6,227.9 877.0,229.7 879.4,231.6 881.7,233.5 884.0,235.4 886.3,237.4 888.5,239.4 890.7,241.5 892.9,243.5 895.0,245.7 897.0,247.9 899.1,250.1 901.1,252.3 903.0,254.6 905.0,256.9 906.9,259.2 908.7,261.6 910.5,264.0 912.3,266.4 914.0,268.9 915.7,271.4 917.4,273.9 919.0,276.4 920.6,279.0 922.1,281.5 923.6,284.1 925.1,286.8 926.5,289.4 927.9,292.1 929.2,294.7 930.6,297.4 931.8,300.2 933.1,302.9 934.3,305.6 935.5,308.4 936.6,311.2 937.8,314.0 938.9,316.8 939.9,319.6 940.9,322.4 942.0,325.2 942.9,328.1 943.9,330.9 944.8,333.8 945.7,336.6 946.6,339.5 947.4,342.4 948.2,345.3 949.1,348.2 949.8,351.1 950.6,354.0 951.3,356.9 952.1,359.8 952.8,362.7 953.4,365.7 954.1,368.6 954.7,371.5 955.4,374.5 956.0,377.4 956.6,380.4 957.1,383.3 957.7,386.3 958.2,389.2 958.8,392.2 959.3,395.1 959.8,398.1 960.3,401.1 960.8,404.0 961.2,407.0 961.7,410.0 962.1,412.9 962.5,415.9 963.0,418.9 963.4,421.9 963.8,424.8 964.1,427.8 964.5,430.8 964.9,433.8 965.2,436.8 965.6,439.7 965.9,442.7 966.2,445.7 966.5,448.7 966.8,451.7 967.1,454.7 967.4,457.7 967.7,460.7 968.0,463.7 968.3,466.6 968.5,469.6 968.8,472.6 969.0,475.6 969.3,478.6 969.5,481.6 969.7,484.6 969.9,487.6 970.1,490.6 970.3,493.6 970.5,496.6 970.7,499.6 970.9,502.6 971.1,505.6 971.3,508.6 971.5,511.6 971.6,514.6 971.8,517.6 971.9,520.6 972.1,523.6 972.2,526.6 972.4,529.6 972.5,532.6 972.7,535.6 972.8,538.6 972.9,541.6 973.0,544.6 973.2,547.6 973.3,550.6 973.4,553.6 973.5,556.6 973.6,559.6 973.7,562.6 973.8,565.6 973.9,568.6 974.0,571.6 974.1,574.6 974.2,577.6 974.2,580.6 974.3,583.6 974.4,586.6 974.5,589.6 974.5,592.6 974.6,595.7 974.7,598.7 974.7,601.7 974.8,604.7 974.8,607.7 974.9,610.7 975.0,613.7 975.0,616.7 975.1,619.7 975.1,622.7 975.2,625.7 975.2,628.7 975.2,631.7 975.3,634.7 975.3,637.7 975.4,640.7 975.4,643.7 975.4,646.7 975.5,649.7 975.5,652.7 975.5,655.7 975.6,658.7 975.6,661.7 975.6,664.7 975.7,667.7 975.7,670.8 975.7,673.8 975.7,676.8 975.8,679.8 975.8,682.8 975.8,685.8 975.8,688.8 975.9,691.8 975.9,694.8 975.9,697.8 975.9,700.8 975.9,703.8 976.0,706.8 976.0,709.8 976.0,712.8 976.0,715.8 976.1,718.8 976.1,721.8 976.1,724.8 976.1,727.8 976.1,730.8 976.2,733.8 976.2,736.8 976.2,739.8 976.2,742.9 976.3,745.9 976.3,748.9 976.3,751.9 976.3,754.9 976.4,757.9 976.4,760.9 976.4,763.9 976.5,766.9 976.5,769.9 976.5,772.9 976.6,775.9 976.6,778.9 976.6,781.9 976.7,784.9 976.7,787.9 976.7,790.9 976.8,793.9 976.8,796.9 976.9,799.9 976.9,802.9 977.0,805.9 977.0,808.9 977.1,811.9 977.1,814.9 977.2,818.0 977.2,821.0 977.3,824.0 977.4,827.0 977.4,830.0 977.5,833.0 977.6,830.0 977.7,827.0 977.7,824.0 977.8,821.0 977.8,818.0 977.8,815.0 977.9,812.0 977.9,809.0 977.9,806.0 978.0,803.0 978.0,800.0 978.0,797.0 978.1,794.0 978.1,791.0 978.1,788.0 978.1,785.0 978.2,782.0 978.2,779.0 978.2,776.0 978.2,773.0 978.2,770.0 978.3,767.0 978.3,764.0 978.3,761.0 978.3,758.0 978.3,755.0 978.3,752.0 978.3,749.0 978.4,746.0 978.4,743.0 978.4,740.0 978.4,737.0 978.4,734.0 978.4,731.0 978.4,728.0 978.5,725.0 978.5,722.0 978.5,719.0 978.5,716.0 978.5,713.0 978.5,710.0 978.5,707.0 978.6,704.0 978.6,701.0 978.6,698.0 978.6,695.0 978.6,692.0 978.6,689.0 978.7,686.0 978.7,683.0 978.7,680.0 978.7,677.0 978.7,674.0 978.8,671.0 978.8,668.0 978.8,665.0 978.9,662.0 978.9,659.0 978.9,656.0 978.9,653.0 979.0,650.0 979.0,647.0 979.0,644.0 979.1,641.0 979.1,638.0 979.2,635.0 979.2,632.0 979.2,629.0 979.3,626.0 979.3,623.0 979.4,620.0 979.4,617.0 979.5,614.0 979.5,611.0 979.6,608.0 979.7,605.0 979.7,602.0 979.8,599.0 979.9,596.0 979.9,593.0 980.0,590.0 980.1,587.0 980.2,584.0 980.2,581.0 980.3,578.0 980.4,575.0 980.5,572.0 980.6,569.0 980.7,566.0 980.8,563.0 980.9,560.0 981.0,557.0 981.1,554.0 981.2,551.0 981.4,548.0 981.5,545.0 981.6,542.0 981.7,539.0 981.9,536.0 982.0,533.0 982.2,530.0 982.3,527.0 982.5,524.0 982.6,521.0 982.8,518.0 982.9,515.0 983.1,512.0 983.3,509.0 983.5,506.1 983.7,503.1 983.9,500.1 984.1,497.1 984.3,494.1 984.5,491.1 984.7,488.1 984.9,485.1 985.1,482.1 985.4,479.1 985.6,476.1 985.9,473.1 986.1,470.1 986.4,467.2 986.7,464.2 986.9,461.2 987.2,458.2 987.5,455.2 987.8,452.2 988.1,449.2 988.5,446.3 988.8,443.3 989.1,440.3 989.5,437.3 989.8,434.3 990.2,431.4 990.6,428.4 990.9,425.4 991.3,422.4 991.7,419.5 992.2,416.5 992.6,413.5 993.0,410.6 993.5,407.6 993.9,404.6 994.4,401.7 994.9,398.7 995.4,395.7 995.9,392.8 996.4,389.8 997.0,386.9 997.5,383.9 998.1,381.0 998.7,378.0 999.3,375.1 999.9,372.2 1000.5,369.2 1001.2,366.3 1001.8,363.4 1002.5,360.5 1003.2,357.5 1004.0,354.6 1004.7,351.7 1005.5,348.8 1006.3,345.9 1007.1,343.0 1007.9,340.2 1008.8,337.3 1009.6,334.4 1010.5,331.5 1011.5,328.7 1012.4,325.8 1013.4,323.0 1014.4,320.2 1015.4,317.4 1016.4,314.5 1017.5,311.7 1018.6,308.9 1019.7,306.2 1020.8,303.4 1022.0,300.6 1023.2,297.9 1024.4,295.1 1025.6,292.4 1026.9,289.7 1028.2,287.0 1029.5,284.3 1030.9,281.6 1032.3,278.9 1033.7,276.3 1035.1,273.7 1036.6,271.1 1038.1,268.5 1039.7,265.9 1041.3,263.4 1042.9,260.8 1044.6,258.3 1046.3,255.9 1048.0,253.4 1049.8,251.0 1051.6,248.6 1053.4,246.2 1055.3,243.9 1057.3,241.6 1059.2,239.3 1061.2,237.1 1063.3,234.9 1065.3,232.8 1067.5,230.6 1069.6,228.5 1071.8,226.5 1074.0,224.5 1076.3,222.5 1078.6,220.6 1080.9,218.7 1083.3,216.9 1085.7,215.1 1088.1,213.3 1090.6,211.6 1093.1,210.0 1095.6,208.3 1098.2,206.8 1100.8,205.3 1103.4,203.8 1106.1,202.4 1108.7,201.0 1111.4,199.7 1114.2,198.5 1116.9,197.3 1119.7,196.1 1122.5,195.0 1125.3,194.0 1128.1,192.9 1130.9,192.0 1133.8,191.1 1136.7,190.2 1139.6,189.4 1142.5,188.6 1145.4,187.8 1148.3,187.1 1151.2,186.5 1154.1,185.8 1157.1,185.2 1160.0,184.6 1163.0,184.1 1165.9,183.6 1168.9,183.1 1171.8,182.6 1174.8,182.2 1177.8,181.8 1180.8,181.4 1183.7,181.0 1186.7,180.7 1189.7,180.4 1192.7,180.0 1195.7,179.7 1198.7,179.5 1201.6,179.2 1204.6,178.9 1207.6,178.6 1210.6,178.4 1213.6,178.2 1216.6,177.9 1219.6,177.7 1222.6,177.5 1225.6,177.3 1228.6,177.1 1231.6,176.9 1234.6,176.7 1237.5,176.5 1240.5,176.3 1243.5,176.2 1246.5,176.0 1249.5,175.9 1252.5,175.7 1255.5,175.6 1258.5,175.4 1261.5,175.3 1264.5,175.2 1267.5,175.1 1270.5,175.0 1273.5,174.9 1276.5,174.8 1279.5,174.7 1282.5,174.6 1285.5,174.5 1288.5,174.4 1291.5,174.3 1294.5,174.2 1297.5,174.2 1300.5,174.1 1303.5,174.0 1306.5,174.0 1309.5,173.9 1312.5,173.9 1315.5,173.8 1318.5,173.8 1321.5,173.7 1324.5,173.7 1327.5,173.7 1330.5,173.6 1333.5,173.6 1336.5,173.6 1339.5,173.5 1342.5,173.5 1345.5,173.5 1348.5,173.5 1351.5,173.4 1354.5,173.4 1357.5,173.4 1360.5,173.4 1363.5,173.4 1366.5,173.4 1369.5,173.3 1372.5,173.3 1375.5,173.3 1378.5,173.3 1381.5,173.3 1384.5,173.3 1387.5,173.3 1390.5,173.3 1393.5,173.3 1396.5,173.3 1399.5,173.2 1402.5,173.2 1405.5,173.2 1408.5,173.2 1411.5,173.2 1414.5,173.2 1417.5,173.2 1420.5,173.2 1423.5,173.2 1426.5,173.2 1429.5,173.1 1432.5,173.1 1435.5,173.1 1438.5,173.1 1441.5,173.1 1444.5,173.1 1447.5,173.1 1450.5,173.1 1453.5,173.0 1456.5,173.0 1459.5,173.0 1462.5,173.0 1465.5,173.0 1468.5,173.0 1471.5,173.0 1474.5,172.9 1477.5,172.9 1480.5,172.9 1483.5,172.9 1486.5,172.9 1489.5,172.9 1492.5,172.8 1495.5,172.8 1498.5,172.8 1501.5,172.8 1504.5,172.8 1507.5,172.8 1510.5,172.7 1513.5,172.7 1516.5,172.7 1519.5,172.7 1522.5,172.7 1525.5,172.6 1528.5,172.6 1531.5,172.6 1534.5,172.6 1537.5,172.6 1540.5,172.6 1543.5,172.5 1546.5,172.5 1549.5,172.5 1552.5,172.5 1555.5,172.5 1558.5,172.4 1561.5,172.4 1564.5,172.4 1567.5,172.4 1570.5,172.4 1573.5,172.3 1576.5,172.3 1579.5,172.3 1582.5,172.3 1585.5,172.3 1588.5,172.2 1591.5,172.2 1594.5,172.2 1597.5,172.2 1600.5,172.1 1603.5,172.1 1606.5,172.1 1609.5,172.1 1612.5,172.1 1615.5,172.0 1618.5,172.0 1621.5,172.0 1624.5,172.0 1627.5,172.0 1630.5,171.9 1633.5,171.9 1636.5,171.9 1639.5,171.9 1642.5,171.9 1645.5,171.8 1648.5,171.8 1651.5,171.8 1654.5,171.8 1657.5,171.7 1660.5,171.7 1663.5,171.7 1666.5,171.7 1669.5,171.7 1672.5,171.6 1675.5,171.6 1678.5,171.6 1681.5,171.6 1684.5,171.6 1687.5,171.5 1690.5,171.5 1693.5,171.5 1696.5,171.5 1699.5,171.5 1702.5,171.4 1705.5,171.4 1708.5,171.4 1711.5,171.4 1714.5,171.4 1717.5,171.3 1720.5,171.3 1723.5,171.3 1726.5,171.3 1729.5,171.3 1732.5,171.2 1735.5,171.2 1738.5,171.2 1739.1,171.2"/>
<path stroke="#77AC30" d="M215.8,112.2L216.4,112.2 219.4,112.3 222.4,112.4 225.4,112.6 228.4,112.7 231.4,112.8 234.4,112.9 237.4,112.9 240.4,113.0 243.4,113.1 246.4,113.1 249.4,113.2 252.4,113.2 255.4,113.3 258.4,113.3 261.4,113.3 264.5,113.4 267.5,113.4 270.5,113.4 273.5,113.4 276.5,113.4 279.5,113.4 282.5,113.4 285.5,113.4 288.5,113.4 291.5,113.4 294.5,113.4 297.5,113.4 300.5,113.4 303.5,113.4 306.5,113.4 309.5,113.4 312.5,113.4 315.5,113.4 318.5,113.4 321.5,113.4 324.5,113.4 327.5,113.4 330.5,113.4 333.5,113.4 336.5,113.4 339.5,113.4 342.5,113.4 345.5,113.4 348.5,113.5 351.5,113.5 354.5,113.5 357.5,113.6 360.5,113.6 363.5,113.7 366.5,113.8 369.5,113.8 372.5,113.9 375.5,114.0 378.5,114.1 381.5,114.2 384.5,114.3 387.5,114.5 390.5,114.6 393.5,114.8 396.5,114.9 399.5,115.1 402.5,115.3 405.5,115.4 408.5,115.6 411.5,115.8 414.5,116.0 417.5,116.3 420.5,116.5 423.4,116.7 426.4,116.9 429.4,117.1 432.4,117.4 435.4,117.6 438.4,117.9 441.4,118.1 444.4,118.3 447.4,118.6 450.4,118.8 453.4,119.1 456.4,119.3 459.3,119.6 462.3,119.8 465.3,120.0 468.3,120.3 471.3,120.5 474.3,120.7 477.3,121.0 480.3,121.2 483.3,121.4 486.3,121.6 489.3,121.8 492.3,122.0 495.3,122.2 498.3,122.4 501.3,122.6 504.3,122.8 507.2,123.0 510.2,123.2 513.2,123.4 516.2,123.5 519.2,123.7 522.2,123.8 525.2,124.0 528.2,124.1 531.2,124.3 534.2,124.4 537.2,124.5 540.2,124.6 543.2,124.8 546.2,124.9 549.2,125.0 552.2,125.1 555.2,125.1 558.2,125.2 561.2,125.3 564.2,125.4 567.2,125.4 570.2,125.5 573.2,125.5 576.2,125.6 579.2,125.6 582.2,125.6 585.2,125.6 588.2,125.6 591.2,125.6 594.2,125.6 597.2,125.6 600.2,125.6 603.2,125.6 606.2,125.5 609.2,125.5 612.2,125.5 615.2,125.5 618.2,125.5 621.2,125.4 624.2,125.4 627.3,125.5 630.3,125.5 633.3,125.5 636.3,125.6 639.3,125.7 642.3,125.8 645.3,126.0 648.2,126.1 651.2,126.3 654.2,126.6 657.2,126.8 660.2,127.2 663.2,127.5 666.2,127.9 669.1,128.3 672.1,128.8 675.1,129.3 678.0,129.8 681.0,130.4 683.9,131.0 686.8,131.6 689.8,132.3 692.7,133.0 695.6,133.8 698.5,134.6 701.3,135.5 704.2,136.3 707.1,137.3 709.9,138.2 712.7,139.2 715.6,140.2 718.4,141.3 721.2,142.4 723.9,143.6 726.7,144.8 729.4,146.0 732.1,147.3 734.9,148.5 737.5,149.9 740.2,151.3 742.9,152.7 745.5,154.1 748.1,155.6 750.7,157.1 753.3,158.6 755.8,160.2 758.4,161.8 760.9,163.5 763.4,165.1 765.8,166.9 768.3,168.6 770.7,170.4 773.1,172.2 775.5,174.0 777.8,175.9 780.1,177.8 782.4,179.7 784.7,181.7 787.0,183.6 789.2,185.6 791.4,187.7 793.6,189.7 795.8,191.8 797.9,193.9 800.0,196.1 802.1,198.2 804.2,200.4 806.2,202.6 808.2,204.8 810.2,207.1 812.2,209.4 814.1,211.6 816.0,213.9 817.9,216.3 819.8,218.6 821.6,221.0 823.5,223.4 825.3,225.8 827.1,228.2 828.8,230.6 830.6,233.0 832.3,235.5 834.0,238.0 835.7,240.5 837.3,243.0 839.0,245.5 840.6,248.0 842.2,250.5 843.8,253.1 845.4,255.6 846.9,258.2 848.4,260.8 850.0,263.4 851.4,266.0 852.9,268.6 854.4,271.2 855.8,273.9 857.3,276.5 858.7,279.1 860.1,281.8 861.5,284.5 862.8,287.1 864.2,289.8 865.5,292.5 866.8,295.2 868.1,297.9 869.4,300.6 870.7,303.3 872.0,306.0 873.2,308.8 874.5,311.5 875.7,314.2 876.9,317.0 878.1,319.7 879.3,322.5 880.5,325.2 881.7,328.0 882.8,330.8 884.0,333.6 885.1,336.3 886.2,339.1 887.3,341.9 888.4,344.7 889.5,347.5 890.6,350.3 891.6,353.1 892.7,355.9 893.7,358.7 894.8,361.6 895.8,364.4 896.8,367.2 897.8,370.0 898.8,372.9 899.8,375.7 900.8,378.5 901.7,381.4 902.7,384.2 903.6,387.1 904.6,389.9 905.5,392.8 906.4,395.6 907.3,398.5 908.2,401.4 909.1,404.2 910.0,407.1 910.9,410.0 911.8,412.8 912.6,415.7 913.5,418.6 914.3,421.5 915.1,424.4 916.0,427.2 916.8,430.1 917.6,433.0 918.4,435.9 919.2,438.8 920.0,441.7 920.8,444.6 921.5,447.5 922.3,450.4 923.1,453.3 923.8,456.2 924.6,459.1 925.3,462.0 926.0,464.9 926.8,467.9 927.5,470.8 928.2,473.7 928.9,476.6 929.6,479.5 930.3,482.4 931.0,485.4 931.6,488.3 932.3,491.2 933.0,494.1 933.6,497.1 934.3,500.0 934.9,502.9 935.6,505.9 936.2,508.8 936.8,511.7 937.5,514.7 938.1,517.6 938.7,520.5 939.3,523.5 939.9,526.4 940.5,529.4 941.1,532.3 941.7,535.2 942.2,538.2 942.8,541.1 943.4,544.1 944.0,547.0 944.5,550.0 945.1,552.9 945.6,555.9 946.2,558.8 946.7,561.8 947.2,564.7 947.8,567.7 948.3,570.7 948.8,573.6 949.3,576.6 949.8,579.5 950.3,582.5 950.8,585.4 951.3,588.4 951.8,591.4 952.3,594.3 952.8,597.3 953.3,600.2 953.8,603.2 954.2,606.2 954.7,609.1 955.2,612.1 955.6,615.1 956.1,618.0 956.5,621.0 957.0,624.0 957.4,626.9 957.8,629.9 958.3,632.9 958.7,635.9 959.1,638.8 959.6,641.8 960.0,644.8 960.4,647.7 960.8,650.7 961.2,653.7 961.6,656.7 962.0,659.6 962.4,662.6 962.8,665.6 963.2,668.6 963.6,671.5 964.0,674.5 964.4,677.5 964.7,680.5 965.1,683.4 965.5,686.4 965.9,689.4 966.2,692.4 966.6,695.4 966.9,698.3 967.3,701.3 967.6,704.3 968.0,707.3 968.3,710.3 968.7,713.3 969.0,716.2 969.4,719.2 969.7,722.2 970.0,725.2 970.4,728.2 970.7,731.1 971.0,734.1 971.3,737.1 971.6,740.1 972.0,743.1 972.3,746.1 972.6,749.1 972.9,752.0 973.2,755.0 973.5,758.0 973.8,761.0 974.1,764.0 974.4,767.0 974.7,770.0 975.0,772.9 975.2,775.9 975.5,778.9 975.8,781.9 976.1,784.9 976.4,787.9 976.6,790.9 976.9,793.9 977.2,796.9 977.5,799.8 977.8,796.9 978.1,793.9 978.4,790.9 978.7,787.9 979.1,784.9 979.4,781.9 979.7,779.0 980.0,776.0 980.3,773.0 980.6,770.0 980.9,767.0 981.3,764.0 981.6,761.0 981.9,758.1 982.2,755.1 982.6,752.1 982.9,749.1 983.2,746.1 983.6,743.1 983.9,740.2 984.2,737.2 984.6,734.2 984.9,731.2 985.3,728.2 985.6,725.3 986.0,722.3 986.3,719.3 986.7,716.3 987.0,713.3 987.4,710.3 987.7,707.4 988.1,704.4 988.5,701.4 988.8,698.4 989.2,695.5 989.6,692.5 989.9,689.5 990.3,686.5 990.7,683.5 991.1,680.6 991.5,677.6 991.9,674.6 992.2,671.6 992.6,668.7 993.0,665.7 993.4,662.7 993.8,659.7 994.2,656.8 994.6,653.8 995.1,650.8 995.5,647.8 995.9,644.9 996.3,641.9 996.7,638.9 997.2,635.9 997.6,633.0 998.0,630.0 998.4,627.0 998.9,624.1 999.3,621.1 999.8,618.1 1000.2,615.2 1000.7,612.2 1001.1,609.2 1001.6,606.3 1002.1,603.3 1002.5,600.3 1003.0,597.4 1003.5,594.4 1003.9,591.4 1004.4,588.5 1004.9,585.5 1005.4,582.6 1005.9,579.6 1006.4,576.6 1006.9,573.7 1007.4,570.7 1007.9,567.8 1008.4,564.8 1008.9,561.8 1009.5,558.9 1010.0,555.9 1010.5,553.0 1011.1,550.0 1011.6,547.1 1012.2,544.1 1012.7,541.2 1013.3,538.2 1013.8,535.3 1014.4,532.3 1015.0,529.4 1015.6,526.4 1016.1,523.5 1016.7,520.6 1017.3,517.6 1017.9,514.7 1018.5,511.7 1019.1,508.8 1019.8,505.9 1020.4,502.9 1021.0,500.0 1021.6,497.0 1022.3,494.1 1022.9,491.2 1023.6,488.3 1024.2,485.3 1024.9,482.4 1025.6,479.5 1026.3,476.6 1026.9,473.6 1027.6,470.7 1028.3,467.8 1029.0,464.9 1029.8,462.0 1030.5,459.0 1031.2,456.1 1031.9,453.2 1032.7,450.3 1033.4,447.4 1034.2,444.5 1035.0,441.6 1035.7,438.7 1036.5,435.8 1037.3,432.9 1038.1,430.0 1038.9,427.1 1039.7,424.2 1040.5,421.3 1041.4,418.5 1042.2,415.6 1043.0,412.7 1043.9,409.8 1044.8,406.9 1045.6,404.1 1046.5,401.2 1047.4,398.3 1048.3,395.5 1049.2,392.6 1050.1,389.8 1051.1,386.9 1052.0,384.1 1053.0,381.2 1053.9,378.4 1054.9,375.5 1055.9,372.7 1056.9,369.8 1057.9,367.0 1058.9,364.2 1059.9,361.4 1060.9,358.6 1062.0,355.7 1063.0,352.9 1064.1,350.1 1065.2,347.3 1066.3,344.5 1067.4,341.7 1068.5,339.0 1069.6,336.2 1070.8,333.4 1071.9,330.6 1073.1,327.9 1074.3,325.1 1075.4,322.3 1076.7,319.6 1077.9,316.8 1079.1,314.1 1080.3,311.4 1081.6,308.7 1082.9,305.9 1084.2,303.2 1085.5,300.5 1086.8,297.8 1088.1,295.1 1089.5,292.5 1090.8,289.8 1092.2,287.1 1093.6,284.5 1095.0,281.8 1096.4,279.2 1097.9,276.5 1099.3,273.9 1100.8,271.3 1102.3,268.7 1103.8,266.1 1105.3,263.5 1106.9,260.9 1108.4,258.4 1110.0,255.8 1111.6,253.3 1113.2,250.7 1114.8,248.2 1116.5,245.7 1118.1,243.2 1119.8,240.7 1121.5,238.2 1123.2,235.8 1125.0,233.3 1126.7,230.9 1128.5,228.5 1130.3,226.1 1132.1,223.7 1134.0,221.3 1135.8,219.0 1137.7,216.6 1139.6,214.3 1141.6,212.0 1143.5,209.7 1145.5,207.5 1147.5,205.2 1149.5,203.0 1151.5,200.8 1153.6,198.6 1155.7,196.4 1157.8,194.3 1159.9,192.2 1162.0,190.1 1164.2,188.0 1166.4,186.0 1168.6,183.9 1170.9,181.9 1173.1,180.0 1175.4,178.0 1177.7,176.1 1180.1,174.2 1182.4,172.4 1184.8,170.6 1187.2,168.8 1189.6,167.0 1192.1,165.3 1194.6,163.6 1197.1,161.9 1199.6,160.3 1202.1,158.7 1204.7,157.2 1207.3,155.6 1209.9,154.2 1212.5,152.7 1215.2,151.3 1217.9,149.9 1220.5,148.6 1223.2,147.3 1226.0,146.0 1228.7,144.8 1231.4,143.5 1234.2,142.4 1237.0,141.2 1239.8,140.1 1242.6,139.1 1245.4,138.0 1248.2,137.0 1251.1,136.1 1253.9,135.1 1256.8,134.2 1259.7,133.3 1262.5,132.5 1265.4,131.7 1268.3,130.9 1271.2,130.1 1274.1,129.4 1277.1,128.7 1280.0,128.0 1282.9,127.4 1285.9,126.8 1288.8,126.2 1291.7,125.6 1294.7,125.1 1297.6,124.6 1300.6,124.1 1303.6,123.6 1306.5,123.1 1309.5,122.7 1312.5,122.3 1315.5,121.9 1318.4,121.6 1321.4,121.2 1324.4,120.9 1327.4,120.6 1330.4,120.3 1333.4,120.0 1336.4,119.8 1339.4,119.5 1342.3,119.3 1345.3,119.1 1348.3,118.9 1351.3,118.7 1354.3,118.5 1357.3,118.4 1360.3,118.2 1363.3,118.1 1366.3,117.9 1369.3,117.8 1372.3,117.6 1375.3,117.5 1378.3,117.4 1381.3,117.3 1384.3,117.2 1387.3,117.1 1390.3,117.0 1393.3,116.8 1396.3,116.7 1399.3,116.6 1402.3,116.5 1405.3,116.4 1408.3,116.3 1411.3,116.2 1414.3,116.1 1417.3,116.0 1420.3,115.9 1423.3,115.8 1426.3,115.7 1429.3,115.6 1432.3,115.5 1435.3,115.4 1438.3,115.3 1441.3,115.3 1444.3,115.2 1447.3,115.1 1450.3,115.0 1453.3,114.9 1456.3,114.8 1459.3,114.7 1462.3,114.6 1465.3,114.6 1468.3,114.5 1471.3,114.4 1474.3,114.3 1477.3,114.3 1480.3,114.2 1483.3,114.1 1486.3,114.0 1489.3,114.0 1492.3,113.9 1495.3,113.8 1498.3,113.8 1501.3,113.7 1504.3,113.6 1507.3,113.6 1510.3,113.5 1513.3,113.5 1516.3,113.4 1519.3,113.4 1522.3,113.3 1525.3,113.3 1528.3,113.2 1531.3,113.2 1534.3,113.1 1537.3,113.1 1540.3,113.0 1543.3,113.0 1546.3,113.0 1549.3,112.9 1552.3,112.9 1555.3,112.8 1558.3,112.8 1561.3,112.8 1564.3,112.8 1567.3,112.7 1570.3,112.7 1573.3,112.7 1576.4,112.6 1579.4,112.6 1582.4,112.6 1585.4,112.6 1588.4,112.5 1591.4,112.5 1594.4,112.5 1597.4,112.5 1600.4,112.5 1603.4,112.4 1606.4,112.4 1609.4,112.4 1612.4,112.4 1615.4,112.4 1618.4,112.4 1621.4,112.3 1624.4,112.3 1627.4,112.3 1630.4,112.3 1633.4,112.3 1636.4,112.3 1639.4,112.3 1642.4,112.2 1645.4,112.2 1648.4,112.2 1651.4,112.2 1654.4,112.2 1657.4,112.2 1660.4,112.1 1663.4,112.1 1666.4,112.1 1669.4,112.1 1672.4,112.1 1675.4,112.0 1678.4,112.0 1681.4,112.0 1684.4,112.0 1687.4,111.9 1690.4,111.9 1693.4,111.9 1696.4,111.9 1699.4,111.8 1702.4,111.8 1705.4,111.8 1708.4,111.8 1711.4,111.7 1714.4,111.7 1717.4,111.6 1720.4,111.6 1723.4,111.6 1726.4,111.5 1729.4,111.5 1732.4,111.4 1735.4,111.4 1738.4,111.4 1739.0,111.4"/>
</g>
<g fill="#262626">
<text transform="matrix(0.962,0,0,1,264.40,968.00)" font-size="52.8" text-anchor="end">50</text>
<text transform="matrix(1.1500,0,0,0.7580,170.01,966.81)" font-size="52.8">−</text>
<text transform="matrix(0.962,0,0,1,416.60,968.00)" font-size="52.8" text-anchor="end">40</text>
<text transform="matrix(1.1500,0,0,0.7580,322.21,966.81)" font-size="52.8">−</text>
<text transform="matrix(0.962,0,0,1,568.80,968.00)" font-size="52.8" text-anchor="end">30</text>
<text transform="matrix(1.1500,0,0,0.7580,474.41,966.81)" font-size="52.8">−</text>
<text transform="matrix(0.962,0,0,1,721.00,968.00)" font-size="52.8" text-anchor="end">20</text>
<text transform="matrix(1.1500,0,0,0.7580,626.61,966.81)" font-size="52.8">−</text>
<text transform="matrix(0.962,0,0,1,873.20,968.00)" font-size="52.8" text-anchor="end">10</text>
<text transform="matrix(1.1500,0,0,0.7580,778.81,966.81)" font-size="52.8">−</text>
<text transform="matrix(0.962,0,0,1,977.50,968.00)" font-size="52.8" text-anchor="middle">0</text>
<text transform="matrix(0.962,0,0,1,1130.30,968.00)" font-size="52.8" text-anchor="middle">10</text>
<text transform="matrix(0.962,0,0,1,1282.50,968.00)" font-size="52.8" text-anchor="middle">20</text>
<text transform="matrix(0.962,0,0,1,1434.70,968.00)" font-size="52.8" text-anchor="middle">30</text>
<text transform="matrix(0.962,0,0,1,1586.90,968.00)" font-size="52.8" text-anchor="middle">40</text>
<text transform="matrix(0.962,0,0,1,1739.10,968.00)" font-size="52.8" text-anchor="middle">50</text>
<text transform="matrix(0.962,0,0,1,195.6,52.80)" font-size="52.8" text-anchor="end">0</text>
<text transform="matrix(0.962,0,0,1,195.6,176.14)" font-size="52.8" text-anchor="end">10</text>
<text transform="matrix(1.1500,0,0,0.7580,101.11,174.95)" font-size="52.8">−</text>
<text transform="matrix(0.962,0,0,1,195.6,299.49)" font-size="52.8" text-anchor="end">20</text>
<text transform="matrix(1.1500,0,0,0.7580,101.11,298.29)" font-size="52.8">−</text>
<text transform="matrix(0.962,0,0,1,195.6,422.83)" font-size="52.8" text-anchor="end">30</text>
<text transform="matrix(1.1500,0,0,0.7580,101.11,421.64)" font-size="52.8">−</text>
<text transform="matrix(0.962,0,0,1,195.6,546.17)" font-size="52.8" text-anchor="end">40</text>
<text transform="matrix(1.1500,0,0,0.7580,101.11,544.98)" font-size="52.8">−</text>
<text transform="matrix(0.962,0,0,1,195.6,669.51)" font-size="52.8" text-anchor="end">50</text>
<text transform="matrix(1.1500,0,0,0.7580,101.11,668.32)" font-size="52.8">−</text>
<text transform="matrix(0.962,0,0,1,195.6,792.86)" font-size="52.8" text-anchor="end">60</text>
<text transform="matrix(1.1500,0,0,0.7580,101.11,791.67)" font-size="52.8">−</text>
<text transform="matrix(0.962,0,0,1,195.6,916.20)" font-size="52.8" text-anchor="end">70</text>
<text transform="matrix(1.1500,0,0,0.7580,101.11,915.01)" font-size="52.8">−</text>
</g>
<g fill="#262626" font-size="56.2">
<text x="801.01" y="1042.60">velocity</text>
<text transform="matrix(1.1756,0,0,0.9300,1006.74,1043.28)" font-size="56.2">−</text>
<text x="1063.37" y="1042.60">m/s</text>
<g transform="translate(70,765.05) rotate(-90)">
<text x="0" y="0">SNR loss of target</text>
<text transform="matrix(1.2196,0,0,1.0000,474.67,2.44)" font-size="56.2">−</text>
<text x="532.69" y="0">dB</text>
</g></g>
<rect x="1186.55" y="519.85" width="509.85" height="329.60" fill="#ffffff" stroke="#262626" stroke-width="2.3"/>
<path d="M1202,558.95H1356" stroke="#0072BD" stroke-width="10" stroke-linecap="butt"/>
<text transform="matrix(0.968,0,0,1,1368.07,576.90)" font-size="48.1" fill="#000000">JDL T=10</text>
<path d="M1202,621.85H1356" stroke="#D95319" stroke-width="10" stroke-linecap="butt"/>
<text transform="matrix(0.968,0,0,1,1368.07,639.80)" font-size="48.1" fill="#000000">JDL T=20</text>
<path d="M1202,684.75H1356" stroke="#EDB120" stroke-width="10" stroke-linecap="butt"/>
<text transform="matrix(0.968,0,0,1,1368.07,702.70)" font-size="48.1" fill="#000000">JDL T=30</text>
<path d="M1202,747.65H1356" stroke="#7E2F8E" stroke-width="10" stroke-linecap="butt"/>
<text transform="matrix(0.968,0,0,1,1368.07,765.60)" font-size="48.1" fill="#000000">JDL T=60</text>
<path d="M1202,810.55H1356" stroke="#77AC30" stroke-width="10" stroke-linecap="butt"/>
<text transform="matrix(0.968,0,0,1,1365.80,828.50)" font-size="48.1" fill="#000000">proposed T=10</text>
</svg></body></html>
